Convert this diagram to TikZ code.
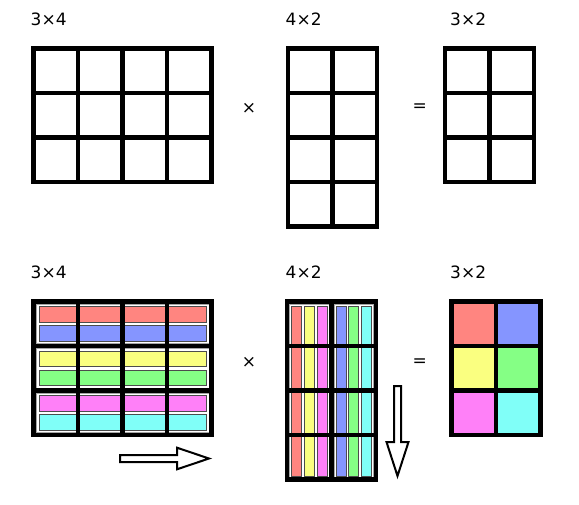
\documentclass[tikz,border=0pt]{standalone}
\usepackage{fontspec}
\setmainfont{DejaVu Sans}
\definecolor{cred}{HTML}{FF8580}
\definecolor{cblue}{HTML}{8595FF}
\definecolor{cyel}{HTML}{FAFF80}
\definecolor{cgreen}{HTML}{85FF85}
\definecolor{cmag}{HTML}{FF80F8}
\definecolor{ccyan}{HTML}{80FFF8}

\begin{document}
\begin{tikzpicture}[x=1pt,y=-1pt,
        gridline/.style={line width=4.5pt},
        band/.style={draw=black!35,fill=white,line width=0.8pt},
        bar/.style={draw=black!70,line width=0.9pt},
        bigarrow/.style={draw=black,fill=white,line width=2pt},
        lbl/.style={anchor=base west,inner sep=0pt,font=\fontsize{17}{20}\selectfont},
        op/.style={inner sep=0pt,font=\fontsize{17}{20}\selectfont}]
        \useasboundingbox (0,0) rectangle (579,504);
        \pgfmathsetmacro{\p}{44.5} % cell size
        % labels
        \node[lbl] (ltopa) at (30.5,25) {3×4};
        \node[lbl] (ltopb) at (285.5,25) {4×2};
        \node[lbl] (ltopc) at (450,25) {3×2};
        \node[lbl] (lbota) at (30.5,278) {3×4};
        \node[lbl] (lbotb) at (285.5,278) {4×2};
        \node[lbl] (lbotc) at (450,278) {3×2};
        \node[op] (timestop) at (249,108) {×};
        \node[op] (eqtop) at (419.7,108) {=};
        \node[op] (timesbot) at (249,362.7) {×};
        \node[op] (eqbot) at (419.7,362.7) {=};
        % colored rows of the left matrix
        \foreach \row/\ca/\cb in {0/cred/cblue,1/cyel/cgreen,2/cmag/ccyan} {
            \draw[band] (36,301.5+\row*\p+2.5) rectangle (209,301.5+\row*\p+42);
            \draw[bar,fill=\ca] (39,301.5+\row*\p+5) rectangle (206.5,301.5+\row*\p+20.5);
            \draw[bar,fill=\cb] (39,301.5+\row*\p+24) rectangle (206.5,301.5+\row*\p+39.5);
            \fill[\ca] (451.6,301.5+\row*\p) rectangle ++(\p,\p);
            \fill[\cb] (451.6+\p,301.5+\row*\p) rectangle ++(\p,\p);
        }
        % colored columns of the middle matrix
        \foreach \col/\ca/\cb/\cc in {0/cred/cyel/cmag,1/cblue/cgreen/ccyan} {
            \draw[band] (287+\col*\p+2.5,304) rectangle (287+\col*\p+42,477);
            \foreach \k/\cl in {0/\ca,1/\cb,2/\cc}
                \draw[bar,fill=\cl] (287+\col*\p+4.5+\k*12.9,306) rectangle ++(10,170.5);
        }
        % grids
        \foreach \x/\y/\nc/\nr in {33.5/48.5/3/2,288/48.5/1/3,445/48.5/1/2,
                33.5/301.5/3/2,287/301.5/1/3,451.6/301.5/1/2}
            \foreach \col in {0,...,\nc}
                \foreach \row in {0,...,\nr}
                    \draw[gridline] (\x+\col*\p,\y+\row*\p) rectangle ++(\p,\p);
        % arrows
        \draw[bigarrow] (120,455) -- (177,455) -- (177,447.7) -- (209,458.5)
            -- (177,469.3) -- (177,462) -- (120,462) -- cycle;
        \draw[bigarrow] (394,386) -- (394,442) -- (386.5,442) -- (397.5,476)
            -- (408.5,442) -- (401,442) -- (401,386) -- cycle;
    \end{tikzpicture}
\end{document}
